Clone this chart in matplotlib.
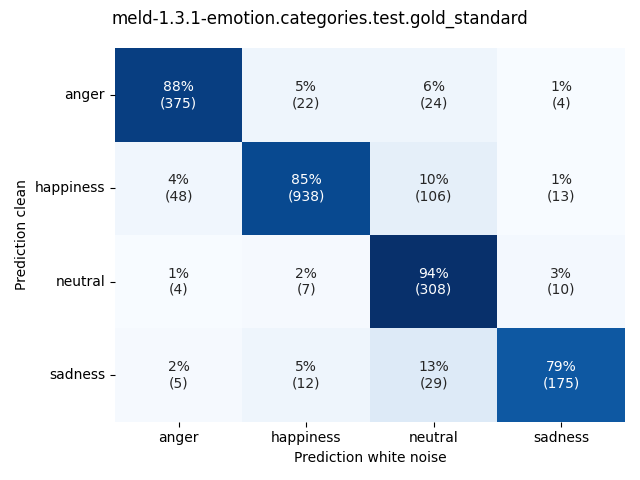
import numpy as np
import matplotlib
matplotlib.use("Agg")
import matplotlib.pyplot as plt
import seaborn as sns

labels = ["anger", "happiness", "neutral", "sadness"]
counts = np.array([
    [375, 22, 24, 4],
    [48, 938, 106, 13],
    [4, 7, 308, 10],
    [5, 12, 29, 175],
])

perc = counts / counts.sum(axis=1, keepdims=True)
annot = np.array([[f"{perc[i, j]*100:.0f}%\n({counts[i, j]})" for j in range(4)] for i in range(4)])

fig, ax = plt.subplots(figsize=(6.4, 4.8), dpi=100)
sns.heatmap(perc, annot=annot, fmt="", cmap="Blues", cbar=False,
            xticklabels=labels, yticklabels=labels, ax=ax)
ax.set_xlabel("Prediction white noise")
ax.set_ylabel("Prediction clean")
plt.setp(ax.get_yticklabels(), rotation=0)
fig.suptitle("meld-1.3.1-emotion.categories.test.gold_standard")
fig.tight_layout()
fig.savefig("out.png", dpi=100)
